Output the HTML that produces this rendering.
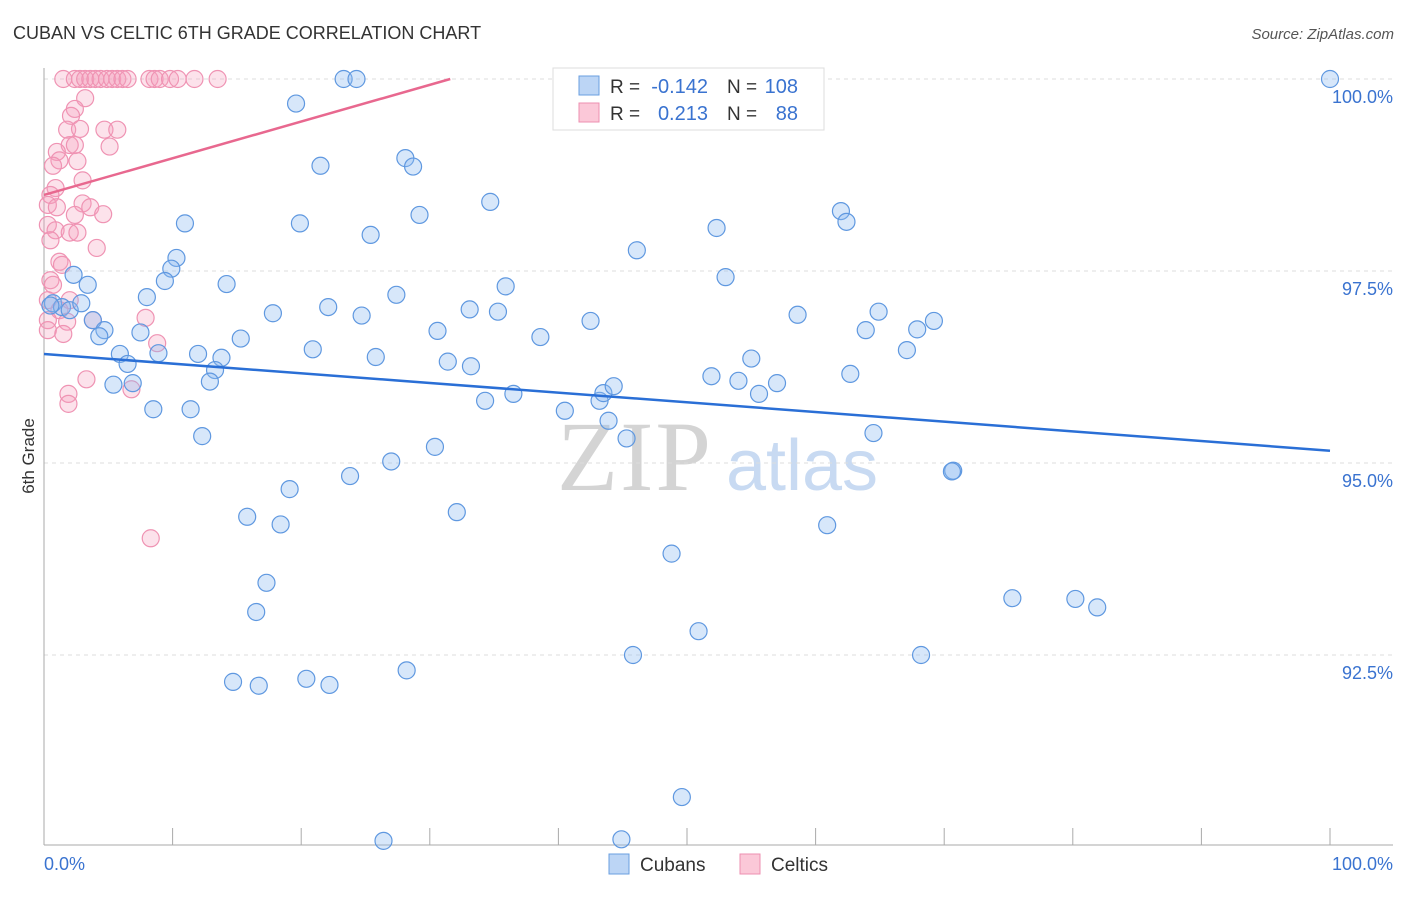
<!DOCTYPE html>
<html><head><meta charset="utf-8"><style>
body{margin:0;background:#fff;font-family:"Liberation Sans",sans-serif;}
svg text{font-family:"Liberation Sans",sans-serif;}
</style></head><body>
<svg id="chart" width="1406" height="892" viewBox="0 0 1406 892" xmlns="http://www.w3.org/2000/svg">
<text x="13" y="39" font-size="18" fill="#333">CUBAN VS CELTIC 6TH GRADE CORRELATION CHART</text>
<text x="1394" y="39" font-size="15" fill="#555" text-anchor="end" font-style="italic">Source: ZipAtlas.com</text>
<g>
<text x="635" y="490" font-size="100" fill="#d4d4d4" text-anchor="middle" style="font-family:'Liberation Serif',serif" letter-spacing="2">ZIP</text>
<text x="802" y="490" font-size="72" fill="#c8daf2" text-anchor="middle">atlas</text>
</g>
<g id="grid"></g>
<g id="axes"></g>
<g id="pts"></g>
<g id="trends"></g>
<text transform="translate(34,456) rotate(-90)" font-size="17" fill="#333" text-anchor="middle">6th Grade</text>
<g>
<rect x="553" y="68" width="271" height="62" fill="#fff" stroke="#ddd"/>
<rect x="579" y="76" width="20" height="19" fill="#bcd5f5" stroke="#6a9fe0"/>
<rect x="579" y="103" width="20" height="19" fill="#fbc8d8" stroke="#ee8fb0"/>
<text x="610" y="93" font-size="19" fill="#333">R =</text>
<text x="708" y="93" font-size="20" fill="#3a73d0" text-anchor="end">-0.142</text>
<text x="727" y="93" font-size="19" fill="#333">N =</text>
<text x="798" y="93" font-size="20" fill="#3a73d0" text-anchor="end">108</text>
<text x="610" y="120" font-size="19" fill="#333">R =</text>
<text x="708" y="120" font-size="20" fill="#3a73d0" text-anchor="end">0.213</text>
<text x="727" y="120" font-size="19" fill="#333">N =</text>
<text x="798" y="120" font-size="20" fill="#3a73d0" text-anchor="end">88</text>
</g>
<g>
<rect x="609" y="854" width="20" height="20" fill="#bcd5f5" stroke="#6a9fe0"/>
<text x="640" y="871" font-size="19" fill="#333">Cubans</text>
<rect x="740" y="854" width="20" height="20" fill="#fbc8d8" stroke="#ee8fb0"/>
<text x="771" y="871" font-size="19" fill="#333">Celtics</text>
</g>
</svg>
<script>
const cubanX=[100,23.3,24.3,19.6,21.5,28.1,28.7,34.7,10.96,19.9,29.2,25.4,52.3,61.97,62.4,46.1,53.0,10.3,9.9,9.4,2.3,3.4,8.0,14.2,0.7,1.4,2.0,2.9,3.8,4.7,4.3,7.5,17.8,22.1,24.7,27.4,33.1,35.3,35.9,30.6,38.6,42.5,58.6,64.9,63.9,67.9,69.2,67.1,15.3,11.98,13.8,5.9,6.5,8.9,20.9,25.8,31.4,33.2,55.0,51.9,54.0,57.0,55.6,62.7,13.3,12.9,5.4,6.9,8.5,11.4,12.3,34.3,36.5,40.5,43.2,43.5,44.3,43.9,45.3,64.5,70.7,70.6,30.4,27.0,23.8,19.1,15.8,18.4,32.1,60.9,48.8,17.3,16.5,75.3,80.2,81.9,50.9,45.8,68.2,14.7,16.7,20.4,22.2,28.2,49.6,26.4,44.9,0.5];
const cubanY=[100,100,100,99.68,98.87,98.97,98.86,98.4,98.12,98.12,98.23,97.97,98.06,98.28,98.14,97.77,97.42,97.67,97.53,97.37,97.45,97.32,97.16,97.33,97.08,97.03,96.99,97.08,96.86,96.73,96.65,96.70,96.95,97.03,96.92,97.19,97.00,96.97,97.30,96.72,96.64,96.85,96.93,96.97,96.73,96.74,96.85,96.47,96.62,96.42,96.37,96.42,96.29,96.43,96.48,96.38,96.32,96.26,96.36,96.13,96.07,96.04,95.90,96.16,96.21,96.06,96.02,96.04,95.70,95.70,95.35,95.81,95.90,95.68,95.81,95.91,96.00,95.55,95.32,95.39,94.90,94.89,95.21,95.02,94.83,94.66,94.30,94.20,94.36,94.19,93.82,93.44,93.06,93.24,93.23,93.12,92.81,92.50,92.50,92.15,92.10,92.19,92.11,92.30,90.65,90.08,90.10,97.05];
const celticX=[1.5,2.4,2.8,3.2,3.6,4.0,4.4,4.9,5.3,5.7,6.1,6.5,8.2,8.6,9.0,9.8,10.4,11.7,13.5,3.2,2.4,2.1,1.8,2.8,4.7,5.7,2.0,2.4,5.1,1.0,2.6,1.2,0.7,3.0,0.9,0.5,0.3,1.0,3.0,3.6,4.6,2.4,0.3,0.9,0.5,2.0,2.6,4.1,1.2,1.4,0.5,0.7,0.3,2.0,1.2,0.3,0.3,1.8,1.5,3.8,7.9,8.8,6.8,3.3,1.9,1.9,8.3];
const celticY=[100,100,100,100,100,100,100,100,100,100,100,100,100,100,100,100,100,100,100,99.75,99.61,99.52,99.34,99.35,99.34,99.34,99.14,99.14,99.12,99.05,98.93,98.94,98.87,98.68,98.58,98.49,98.36,98.33,98.38,98.33,98.24,98.23,98.10,98.03,97.90,98.0,98.0,97.80,97.62,97.58,97.38,97.32,97.12,97.12,96.99,96.86,96.73,96.84,96.68,96.86,96.89,96.56,95.96,96.09,95.90,95.77,94.02];
const cubanTrend=[96.42,95.16];
const celticTrend=[98.49,103.27];
const yTicks=[100,97.5,95,92.5];
const yTickLabels=["100.0%","97.5%","95.0%","92.5%"];
const xTickLabels=["0.0%","100.0%"];

const NS="http://www.w3.org/2000/svg";
const X0=44,X1=1330,YTOP=79,YPER=76.8;
const sx=v=>X0+(X1-X0)*v/100;
const sy=v=>YTOP+(100-v)*YPER;
function mk(tag,attrs,parent){const e=document.createElementNS(NS,tag);for(const k in attrs)e.setAttribute(k,attrs[k]);parent.appendChild(e);return e;}
const grid=document.getElementById('grid'),axes=document.getElementById('axes'),pts=document.getElementById('pts'),tr=document.getElementById('trends');
yTicks.forEach((t,i)=>{
 const l=mk('line',{x1:X0,x2:1393,y1:sy(t),y2:sy(t),stroke:'#ddd','stroke-dasharray':'4,4'},grid);
 
 
 const tx=mk('text',{x:1393,y:sy(t)+24,'font-size':18,fill:'#3a73d0','text-anchor':'end'},axes);
 tx.textContent=yTickLabels[i];
 
 
});
const ya=mk('line',{x1:X0,x2:X0,y1:68,y2:845,stroke:'#aaa'},axes);


const xa=mk('line',{x1:X0,x2:1393,y1:845,y2:845,stroke:'#aaa'},axes);


for(let i=0;i<=10;i++){
 const t=mk('line',{x1:sx(i*10),x2:sx(i*10),y1:828,y2:845,stroke:'#aaa'},axes);
 
 
}
const xl0=mk('text',{x:X0,y:870,'font-size':18,fill:'#3a73d0'},axes);xl0.textContent=xTickLabels[0];


const xl1=mk('text',{x:1393,y:870,'font-size':18,fill:'#3a73d0','text-anchor':'end'},axes);xl1.textContent=xTickLabels[1];


celticX.forEach((x,i)=>{
 const c=mk('circle',{cx:sx(x),cy:sy(celticY[i]),r:8.5,fill:'rgba(245,160,190,0.3)',stroke:'#ef93b3','stroke-width':1.2},pts);
 
 
});
cubanX.forEach((x,i)=>{
 const c=mk('circle',{cx:sx(x),cy:sy(cubanY[i]),r:8.5,fill:'rgba(140,185,240,0.35)',stroke:'#5f98e0','stroke-width':1.2},pts);
 
 
});
const bl=mk('line',{x1:sx(0),y1:sy(cubanTrend[0]),x2:sx(100),y2:sy(cubanTrend[1]),stroke:'#2a6fd6','stroke-width':2.5},tr);


const slope=(celticTrend[1]-celticTrend[0])/100;
const xe=Math.min(100,(100-celticTrend[0])/slope);
const pl=mk('line',{x1:sx(0),y1:sy(celticTrend[0]),x2:sx(xe),y2:sy(celticTrend[0]+slope*xe),stroke:'#e8688f','stroke-width':2.5},tr);


</script>
</body></html>
